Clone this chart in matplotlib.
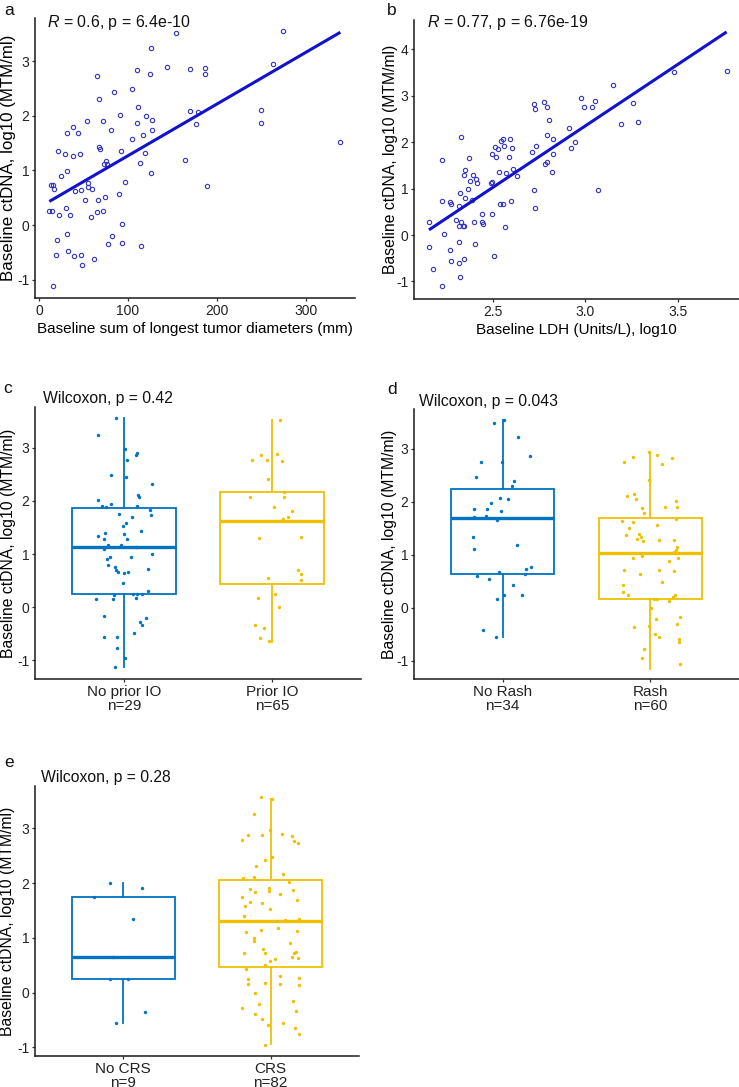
import matplotlib.pyplot as plt
import numpy as np

plt.rcParams['font.family'] = 'Liberation Sans'
plt.rcParams['mathtext.fontset'] = 'custom'
plt.rcParams['mathtext.rm'] = 'Liberation Sans'
plt.rcParams['mathtext.it'] = 'Liberation Sans:italic'
plt.rcParams['axes.unicode_minus'] = False

W, H = 739, 1087
BLUE = '#0073C2'
YELLOW = '#EFC000'
PT_COL = '#3535C0'
LINE_COL = '#1212CC'
YLAB = 'Baseline ctDNA, log10 (MTM/ml)'

# a) tumour diameters (mm) vs ctDNA
tumor_diam = [11.3, 14.6, 12.8, 15.4, 16.5, 15.8, 18.8, 19.9, 21.4, 22.2, 24.4, 29.3, 30.0, 31.2,
              31.5, 31.5, 32.3, 34.5, 37.6, 37.9, 39.1, 40.6, 43.9, 45.8, 47.3, 46.9, 48.4, 51.8,
              54.1, 54.5, 55.2, 59.7, 58.2, 62.0, 65.0, 65.3, 66.1, 67.6, 67.6, 68.3, 72.1, 72.9,
              72.1, 73.6, 75.5, 75.9, 77.7, 80.4, 81.9, 83.7, 89.4, 91.3, 91.6, 92.8, 93.5, 96.9,
              104.0, 104.8, 109.7, 110.8, 110.4, 113.0, 114.2, 116.8, 119.0, 119.8, 124.7, 125.4,
              126.2, 126.5, 126.5, 143.4, 154.3, 164.1, 169.7, 170.1, 176.9, 178.4, 186.3, 187.0,
              189.3, 250.1, 250.1, 262.9, 274.5, 339.1]
ctdna_tumor = [0.26, 0.26, 0.74, 0.74, 0.66, -1.11, -0.54, -0.27, 1.36, 0.18, 0.90, 1.30, 0.31, 1.68,
               0.99, -0.16, -0.47, 0.18, 1.27, 1.80, -0.57, 0.62, 1.69, 1.30, 0.64, -0.54, -0.74, 0.45,
               1.91, 0.76, 0.70, 0.66, 0.15, -0.62, 2.73, 0.24, 0.45, 2.31, 1.43, 1.39, 1.90, 1.11,
               0.26, 0.52, 1.17, 1.12, -0.34, 1.74, -0.20, 2.44, 0.57, 2.02, 1.35, -0.33, 0.01, 0.79,
               2.48, 1.57, 2.84, 2.15, 1.87, 1.13, -0.38, 1.65, 1.32, 2.00, 2.76, 0.96,
               3.24, 1.93, 1.74, 2.89, 3.51, 1.19, 2.85, 2.08, 1.84, 2.07, 2.76, 2.87,
               0.71, 2.11, 1.87, 2.95, 3.55, 1.52]

# b) LDH (log10) vs ctDNA
ldh_log10 = [2.156, 2.154, 2.177, 2.223, 2.223, 2.224, 2.237, 2.269, 2.273, 2.269, 2.275, 2.302,
             2.314, 2.314, 2.314, 2.318, 2.320, 2.327, 2.322, 2.329, 2.336, 2.341, 2.343, 2.343,
             2.349, 2.350, 2.367, 2.370, 2.374, 2.385, 2.394, 2.399, 2.401, 2.408, 2.415, 2.441,
             2.441, 2.444, 2.489, 2.496, 2.496, 2.496, 2.504, 2.511, 2.516, 2.525, 2.534, 2.536,
             2.541, 2.554, 2.556, 2.559, 2.563, 2.572, 2.588, 2.592, 2.597, 2.601, 2.606, 2.632,
             2.711, 2.720, 2.722, 2.727, 2.727, 2.734, 2.776, 2.779, 2.790, 2.792, 2.792, 2.803,
             2.817, 2.823, 2.823, 2.913, 2.920, 2.941, 2.974, 2.994, 3.035, 3.053, 3.068, 3.150,
             3.192, 3.255, 3.286, 3.477, 3.763]
ctdna_ldh = [0.28, -0.25, -0.73, 1.62, 0.73, -1.09, 0.02, 0.71, 0.67, -0.32, -0.55, 0.32,
             0.63, -0.14, -0.60, 0.19, 0.91, 2.11, -0.91, 0.28, 0.19, 0.19, -0.52, 1.30,
             0.80, 1.39, 1.00, 1.65, 1.17, 0.75, 1.30, 0.28, -0.19, 1.20, 1.13, 0.46,
             0.28, 0.24, 1.12, 1.14, 0.46, 1.75, -0.45, 1.90, 1.69, 1.85, 1.36, 0.67,
             2.02, 2.07, 0.66, 1.92, 0.17, 1.33, 1.69, 2.07, 0.74, 1.87, 1.42, 1.28,
             1.79, 2.83, 0.97, 2.72, 0.58, 1.92, 2.86, 1.52, 2.15, 2.75, 1.57, 2.47,
             1.35, 2.07, 1.74, 2.30, 1.87, 2.00, 2.94, 2.75, 2.75, 2.89, 0.97, 3.23,
             2.40, 2.84, 2.43, 3.50, 3.54]

# c) prior IO
io_labels = ['No prior IO\nn=29', 'Prior IO\nn=65']
io_no_y = [3.57, 3.25, 2.97, 2.77, 2.48, 2.45, 2.87, 2.91, 2.32, 2.01, 1.91, 1.88, 1.94, 1.91, 2.11,
           2.08, 1.84, 1.74, 1.76, 1.59, 1.53, 1.69, 1.43, 1.35, 1.39, 1.28, 1.37, 1.29, 1.17, 1.18,
           1.14, 1.10, 0.95, 1.00, 0.95, 0.90, 0.79, 0.75, 0.71, 0.66, 0.65, 0.66, 0.73, 0.45, 0.30,
           0.26, 0.26, 0.26, 0.23, 0.16, 0.18, 0.15, -0.16, -0.21, -0.28, -0.34, -0.55, -0.55, -0.48,
           -0.76, -0.95, -1.13]
io_no_dx = [-0.056, -0.173, 0.004, 0.020, -0.085, 0.013, 0.079, 0.090, 0.187, -0.178, -0.151, -0.119,
            -0.090, 0.090, 0.097, 0.103, 0.175, 0.182, -0.031, 0.011, -0.004, 0.056, 0.115, -0.173,
            -0.130, -0.133, 0.0, 0.018, -0.108, -0.022, 0.079, -0.135, 0.049, 0.189, -0.094, -0.117,
            -0.110, -0.063, -0.052, -0.040, 0.002, 0.029, 0.164, -0.009, 0.160, 0.063, 0.085, 0.119,
            -0.067, -0.074, 0.083, -0.189, -0.135, 0.148, 0.108, 0.124, -0.135, -0.045, 0.070,
            -0.049, 0.007, -0.058]
io_yes_y = [3.52, 2.77, 2.87, 2.78, 2.88, 2.75, 2.41, 2.08, 2.16, 2.08, 1.88, 1.81, 1.69, 1.66, 1.30,
            1.32, 0.70, 0.62, 0.51, 0.56, 0.18, 0.25, 0.00, -0.34, -0.39, -0.58, -0.63]
io_yes_dx = [0.056, -0.137, -0.072, -0.036, 0.034, 0.070, -0.027, -0.148, 0.083, 0.083, 0.013, 0.137,
             0.110, 0.074, -0.088, 0.198, 0.173, 0.193, 0.193, -0.029, -0.094, 0.020, 0.045, -0.117,
             -0.054, -0.081, -0.020]
io_q1, io_med, io_q3 = [0.257, 0.44], [1.13, 1.63], [1.875, 2.16]
io_lo, io_hi = [-1.13, -0.65], [3.57, 3.52]

# d) rash
rash_labels = ['No Rash\nn=34', 'Rash\nn=60']
rash_no_y = [3.49, 3.55, 3.23, 2.86, 2.75, 2.75, 2.47, 2.39, 2.30, 1.98, 2.07, 2.06, 1.86, 1.86, 1.83,
             1.72, 1.73, 1.66, 1.34, 1.11, 1.18, 0.77, 0.73, 0.63, 0.67, 0.60, 0.55, 0.42, 0.23, 0.23,
             0.16, -0.42, -0.56]
rash_no_dx = [-0.061, 0.011, 0.104, 0.187, -0.147, -0.005, -0.181, 0.077, 0.065, -0.077, -0.016, 0.038,
              -0.192, -0.108, -0.009, -0.196, -0.111, -0.036, -0.199, -0.196, 0.099, 0.192, 0.156,
              0.149, -0.027, -0.172, -0.093, 0.068, 0.009, 0.129, -0.041, -0.135, -0.043]
rash_yes_y = [2.94, 2.88, 2.83, 2.76, 2.85, 2.71, 2.42, 2.10, 2.14, 2.06, 2.01, 1.91, 1.90, 1.88, 1.79,
              1.63, 1.61, 1.51, 1.56, 1.67, 1.37, 1.39, 1.33, 1.30, 1.25, 1.28, 1.28, 1.09, 1.15, 1.06,
              0.98, 0.93, 0.89, 0.94, 0.72, 0.72, 0.70, 0.64, 0.49, 0.43, 0.29, 0.23, 0.17, 0.17, 0.13,
              0.21, 0.23, -0.01, -0.18, -0.22, -0.30, -0.37, -0.34, -0.49, -0.56, -0.59, -0.65, -0.78,
              -0.96, -1.07]
rash_yes_dx = [-0.009, 0.045, 0.147, -0.176, -0.115, 0.081, -0.007, -0.160, -0.111, -0.099, 0.176,
               0.181, 0.097, -0.059, -0.041, -0.194, -0.115, -0.144, 0.047, 0.176, -0.167, -0.074,
               -0.065, -0.090, -0.047, 0.059, 0.160, 0.172, 0.183, 0.163, -0.054, -0.115, 0.124,
               0.190, -0.181, 0.061, 0.160, -0.072, 0.081, -0.185, -0.187, -0.153, 0.025, 0.047,
               0.124, 0.151, 0.169, 0.005, 0.201, 0.038, 0.183, -0.108, -0.007, 0.034, 0.061, 0.192,
               0.196, -0.043, -0.054, 0.200]
rash_q1, rash_med, rash_q3 = [0.63, 0.17], [1.69, 1.03], [2.24, 1.70]
rash_lo, rash_hi = [-0.56, -1.15], [3.55, 2.94]

# e) CRS
crs_labels = ['No CRS\nn=9', 'CRS\nn=82']
crs_no_y = [2.00, 1.92, 1.75, 1.35, 0.66, 0.25, 0.25, -0.35, -0.55]
crs_no_dx = [-0.093, 0.129, -0.201, 0.066, -0.070, -0.093, 0.034, 0.145, -0.048]
crs_yes_y = [3.57, 3.53, 3.26, 2.97, 2.90, 2.86, 2.88, 2.88, 2.77, 2.74, 2.78, 2.47, 2.42, 2.32, 2.17,
             2.09, 2.11, 2.03, 1.90, 1.84, 1.92, 1.86, 1.81, 1.87, 1.74, 1.65, 1.58, 1.63, 1.69, 1.53,
             1.40, 1.35, 1.32, 1.10, 1.14, 1.18, 1.13, 0.99, 0.95, 0.91, 0.73, 0.79, 0.72, 0.62, 0.57,
             0.51, 0.72, 0.75, 0.65, 0.64, 0.44, 0.25, 0.16, 0.30, 0.16, 0.17, 0.26, 0.14, 0.00, -0.28,
             -0.21, -0.16, -0.39, -0.34, -0.48, -0.59, -0.55, -0.64, -0.76, -0.96]
crs_yes_dx = [-0.068, 0.007, -0.115, -0.007, 0.075, 0.145, -0.152, -0.061, 0.158, 0.186, -0.197, 0.009,
              -0.038, -0.097, 0.081, -0.186, -0.115, 0.124, -0.138, -0.106, -0.011, -0.011, 0.061,
              0.152, -0.197, -0.143, -0.176, -0.059, 0.176, -0.005, -0.183, 0.192, 0.100, -0.167,
              -0.066, 0.050, 0.179, -0.115, -0.115, 0.129, -0.179, -0.054, -0.036, 0.027, -0.002,
              -0.041, 0.158, 0.170, 0.145, 0.186, -0.170, -0.154, -0.152, 0.061, 0.066, -0.041, 0.192,
              0.190, -0.109, -0.195, -0.077, 0.152, -0.106, 0.174, -0.059, -0.018, 0.084, 0.167,
              0.195, -0.036]
crs_q1, crs_med, crs_q3 = [0.25, 0.46], [0.66, 1.30], [1.75, 2.06]
crs_lo, crs_hi = [-0.55, -0.94], [2.00, 3.54]


fig = plt.figure(figsize=(W / 100, H / 100), dpi=100)


def px_axes(l, t, r, b):
    return fig.add_axes([l / W, 1 - b / H, (r - l) / W, (b - t) / H])


def style(ax):
    for s in ['top', 'right']:
        ax.spines[s].set_visible(False)
    for s in ['left', 'bottom']:
        ax.spines[s].set_linewidth(1.1)
        ax.spines[s].set_color('#1a1a1a')
    ax.tick_params(length=2.5, width=0.9, color='#333333', labelsize=10,
                   pad=1.5, labelcolor='#222222')


def fig_text(x, y, s, **kw):
    fig.text(x / W, 1 - y / H, s, va='baseline', ha='left', color='#111111', **kw)


def set_ylab(ax, size, xpos):
    ax.set_ylabel(YLAB, fontsize=size)
    ax.yaxis.set_label_coords(xpos, 0.5)


def scatter_panel(ax, x, y, xlim, ylim, yticks, xticks, xlabel):
    ax.plot(x, y, 'o', ms=3.1, mfc='none', mec=PT_COL, mew=0.8)
    k, b0 = np.polyfit(x, y, 1)
    xs = np.array([min(x), max(x)])
    ax.plot(xs, k * xs + b0, color=LINE_COL, lw=2.2, solid_capstyle='butt')
    ax.set_xlim(*xlim)
    ax.set_ylim(*ylim)
    ax.set_xticks(xticks)
    ax.set_yticks(yticks)
    style(ax)
    ax.set_xlabel(xlabel, fontsize=11, labelpad=3)


def box_panel(ax, ys, dxs, q1, med, q3, lo, hi, labels, ylim):
    cols = [BLUE, YELLOW]
    for i in range(2):
        st = dict(q1=q1[i], med=med[i], q3=q3[i], whislo=lo[i], whishi=hi[i])
        ax.bxp([st], positions=[i + 1], widths=0.7, showcaps=False, showfliers=False,
               patch_artist=True,
               boxprops=dict(facecolor='white', edgecolor=cols[i], lw=1.3),
               medianprops=dict(color=cols[i], lw=2.4, solid_capstyle='butt'),
               whiskerprops=dict(color=cols[i], lw=1.3))
        ax.scatter(np.array(dxs[i]) + i + 1, ys[i], s=6, color=cols[i], lw=0, zorder=3)
    ax.set_xlim(0.4, 2.6)
    ax.set_ylim(*ylim)
    ax.set_yticks([-1, 0, 1, 2, 3])
    ax.set_xticks([1, 2])
    ax.set_xticklabels(labels, fontsize=11, linespacing=1.0)
    style(ax)
    ax.tick_params(axis='x', labelsize=11)


ax_a = px_axes(35, 18, 355, 298)
scatter_panel(ax_a, tumor_diam, ctdna_tumor, (-4.8, 355.6), (-1.335, 3.787), [-1, 0, 1, 2, 3],
              [0, 100, 200, 300], 'Baseline sum of longest tumor diameters (mm)')
set_ylab(ax_a, 12.2, -0.06)

ax_b = px_axes(414, 20, 739, 299)
scatter_panel(ax_b, ldh_log10, ctdna_ldh, (2.073, 3.83), (-1.378, 4.63), [-1, 0, 1, 2, 3, 4],
              [2.5, 3.0, 3.5], 'Baseline LDH (Units/L), log10')
set_ylab(ax_b, 11.3, -0.049)

ax_c = px_axes(35, 407, 361, 679)
box_panel(ax_c, [io_no_y, io_yes_y], [io_no_dx, io_yes_dx], io_q1, io_med, io_q3, io_lo, io_hi,
          io_labels, (-1.348, 3.768))
set_ylab(ax_c, 11.3, -0.058)

ax_d = px_axes(414, 409, 739, 679)
box_panel(ax_d, [rash_no_y, rash_yes_y], [rash_no_dx, rash_yes_dx], rash_q1, rash_med, rash_q3,
          rash_lo, rash_hi, rash_labels, (-1.348, 3.753))
set_ylab(ax_d, 11.3, -0.052)

ax_e = px_axes(35, 786, 359, 1056)
box_panel(ax_e, [crs_no_y, crs_yes_y], [crs_no_dx, crs_yes_dx], crs_q1, crs_med, crs_q3,
          crs_lo, crs_hi, crs_labels, (-1.156, 3.774))
set_ylab(ax_e, 11.3, -0.062)

# panel letters and stats
fig_text(4, 15, 'a', fontsize=12.5)
fig_text(387, 15, 'b', fontsize=12.5)
fig_text(3, 393, 'c', fontsize=12.5)
fig_text(387, 394, 'd', fontsize=12.5)
fig_text(4, 767, 'e', fontsize=12.5)

fig_text(46.7, 26.5, r'$\mathit{R}$ = 0.6, p = 6.4e-10', fontsize=11.5)
fig_text(426.7, 26.7, r'$\mathit{R}$ = 0.77, p = 6.76e-19', fontsize=11.5)
fig_text(42.7, 403.3, 'Wilcoxon, p = 0.42', fontsize=11.3)
fig_text(419, 406, 'Wilcoxon, p = 0.043', fontsize=11.3)
fig_text(40.7, 782, 'Wilcoxon, p = 0.28', fontsize=11.3)

fig.savefig('out.png', dpi=100)
